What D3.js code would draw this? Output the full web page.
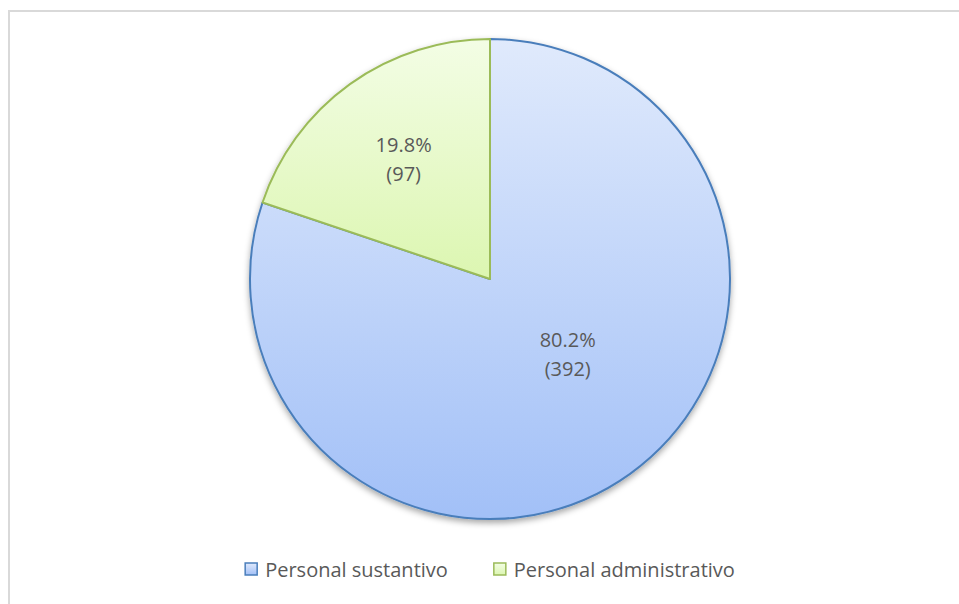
<!DOCTYPE html>
<html>
<head>
<meta charset="utf-8">
<script src="https://cdn.jsdelivr.net/npm/d3@7"></script>
<style>
  html, body { margin: 0; padding: 0; background: #fff; }
  svg { display: block; font-family: "Open Sans", sans-serif; }
</style>
</head>
<body>
<div id="chart"></div>
<script>
'use strict';

// ------------ DATA ---------------- //

const categories = ['Personal sustantivo', 'Personal administrativo'];
const counts     = [392, 97];
const percents   = ['80.2%', '19.8%'];

// ------------ LAYOUT / STYLE ---------------- //

const WIDTH   = 959;
const HEIGHT  = 604;
const CX      = 490;
const CY      = 279;
const RADIUS  = 240;
const FONT_PX = 20;
const TEXT    = '#595959';

const COLORS = [
    {top: '#e0eafc', bottom: '#a2c0f7', stroke: '#4a7ebb'},
    {top: '#f3fde5', bottom: '#dcf6b1', stroke: '#9bbb59'}
];

// label placement (distance from centre, angle in degrees clockwise from 12 o'clock)
const LABEL_POLAR = [
    {r: 108, deg: 134},
    {r: 148, deg: null}   // null -> mid angle of slice
];

// ------------- DRAW ------------- //

const drawChart = () => {
    const svg = d3.select('#chart')
        .append('svg')
        .attr('width', WIDTH)
        .attr('height', HEIGHT);

    const defs = svg.append('defs');

    COLORS.forEach((c, i) => {
        const g = defs.append('linearGradient')
            .attr('id', `grad${i}`)
            .attr('x1', 0).attr('y1', 0).attr('x2', 0).attr('y2', 1);
        g.append('stop').attr('offset', 0).attr('stop-color', c.top);
        g.append('stop').attr('offset', 1).attr('stop-color', c.bottom);
    });

    const shadow = defs.append('filter')
        .attr('id', 'shadow')
        .attr('x', '-10%').attr('y', '-10%')
        .attr('width', '120%').attr('height', '120%');
    shadow.append('feDropShadow')
        .attr('dx', 0).attr('dy', 3)
        .attr('stdDeviation', 3)
        .attr('flood-color', '#000')
        .attr('flood-opacity', 0.35);

    // chart frame
    svg.append('rect')
        .attr('x', 9).attr('y', 11)
        .attr('width', 1000).attr('height', 700)
        .attr('fill', 'none')
        .attr('stroke', '#d9d9d9')
        .attr('stroke-width', 2);

    const pie = d3.pie().sort(null).value(d => d)(counts);
    const arc = d3.arc().innerRadius(0).outerRadius(RADIUS);

    const plot = svg.append('g')
        .attr('transform', `translate(${CX},${CY})`);

    plot.append('g')
        .attr('filter', 'url(#shadow)')
        .selectAll('path')
        .data(pie)
        .enter()
            .append('path')
            .attr('d', arc)
            .attr('fill', (d, i) => `url(#grad${i})`)
            .attr('stroke', (d, i) => COLORS[i].stroke)
            .attr('stroke-width', 2)
            .attr('stroke-linejoin', 'round');

    // data labels
    pie.forEach((d, i) => {
        const {r, deg} = LABEL_POLAR[i];
        const a = deg === null ? (d.startAngle + d.endAngle) / 2 : deg * Math.PI / 180;
        const x = r * Math.sin(a);
        const y = -r * Math.cos(a);
        const t = plot.append('text')
            .attr('text-anchor', 'middle')
            .attr('fill', TEXT)
            .style('font-size', `${FONT_PX}px`);
        t.append('tspan').attr('x', x).attr('y', y - 7).text(percents[i]);
        t.append('tspan').attr('x', x).attr('y', y + 22).text(`(${counts[i]})`);
    });

    // legend
    const legend = svg.append('g');
    const items = legend.selectAll('g')
        .data(categories)
        .enter()
            .append('g');

    items.append('rect')
        .attr('x', 0).attr('y', -7)
        .attr('width', 12).attr('height', 12)
        .attr('fill', (d, i) => `url(#grad${i})`)
        .attr('stroke', (d, i) => COLORS[i].stroke)
        .attr('stroke-width', 1.5);

    items.append('text')
        .attr('x', 20).attr('y', 7)
        .attr('fill', TEXT)
        .style('font-size', `${FONT_PX}px`)
        .text(d => d);

    let offset = 0;
    const gap = 46;
    items.each(function() {
        const w = 20 + d3.select(this).select('text').node().getComputedTextLength();
        d3.select(this).attr('transform', `translate(${offset},0)`);
        offset += w + gap;
    });
    const total = offset - gap;
    legend.attr('transform', `translate(${CX - total / 2},${570})`);
};

document.addEventListener('DOMContentLoaded', drawChart);
</script>
</body>
</html>
